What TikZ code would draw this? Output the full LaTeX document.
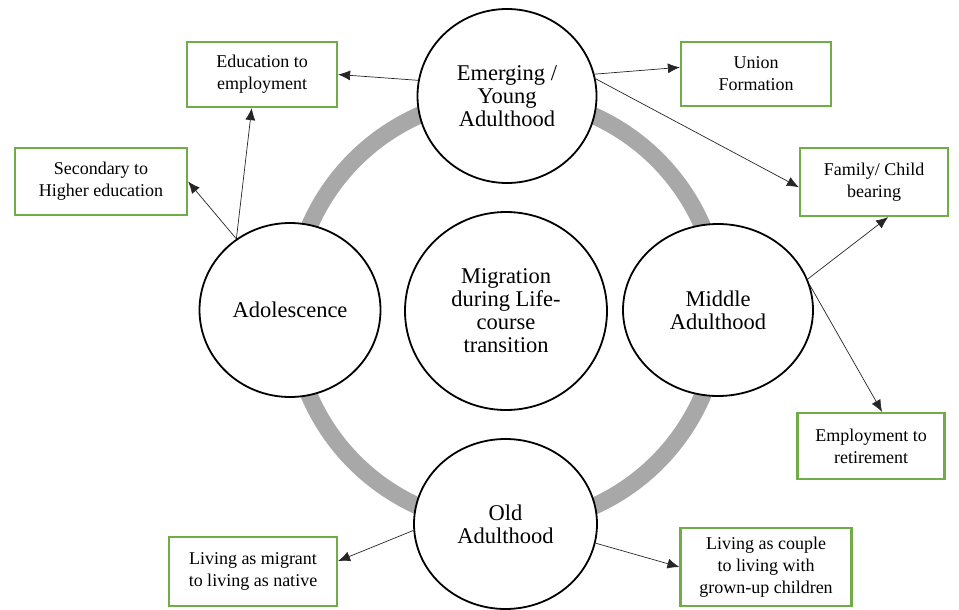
\documentclass[tikz,border=0pt]{standalone}
\usepackage{fontspec}
\setmainfont{Liberation Serif}
\usetikzlibrary{shapes.geometric}
\usetikzlibrary{arrows.meta}

\definecolor{boxgreen}{RGB}{112,173,71}
\definecolor{ringgray}{RGB}{168,168,168}

\begin{document}
\begin{tikzpicture}[x=1pt,y=-1pt,
	stage/.style={ellipse,draw,line width=1.8pt,fill=white,inner sep=0pt,align=center,font=\fontsize{22.5}{23}\selectfont},
	trans/.style={rectangle,draw=boxgreen,line width=2.2pt,fill=white,inner sep=0pt,align=center,font=\fontsize{18}{22}\selectfont},
	link/.style={-{Latex[length=12pt,width=10pt]},line width=0.7pt,black!85}]
	\useasboundingbox (0,0) rectangle (959,610);
	\coordinate (o) at (506,311);
	\draw[ringgray,line width=17pt] (o) circle [radius=214pt];
	\node[stage,minimum width=179pt,minimum height=174pt] (young) at (507,96) {Emerging /\\Young\\Adulthood};
	\node[stage,minimum width=181pt,minimum height=174pt] (adol) at (290,310) {Adolescence};
	\node[stage,minimum width=202pt,minimum height=198pt] (mig) at (o) {Migration\\during Life-\\course\\transition};
	\node[stage,minimum width=190pt,minimum height=172pt] (middle) at (718,310) {Middle\\Adulthood};
	\node[stage,minimum width=183pt,minimum height=170pt] (old) at (505.5,524) {Old\\Adulthood};
	\node[trans,minimum width=150pt,minimum height=65pt] (edu) at (262,74.5) {Education to\\employment};
	\node[trans,minimum width=172pt,minimum height=67pt] (sec) at (101,181.5) {Secondary to\\Higher education};
	\node[trans,minimum width=150pt,minimum height=64pt] (union) at (756,74) {Union\\Formation};
	\node[trans,minimum width=148pt,minimum height=68pt] (family) at (874,182) {Family/ Child\\bearing};
	\node[trans,minimum width=147pt,minimum height=66pt] (emp) at (871,446) {Employment to\\retirement};
	\node[trans,minimum width=168pt,minimum height=69pt] (migr) at (253,571.5) {Living as migrant\\to living as native};
	\node[trans,minimum width=171pt,minimum height=78pt] (couple) at (766,567) {Living as couple\\to living with\\grown-up children};
	\foreach \a/\b in {young.170/edu.east,young.14/union.175,young.11/family.184,adol.127/edu.253,adol.127/sec.east,middle.19/family.292,middle.15/emp.72,old.184/migr.7,old.348/couple.west}
		\draw[link] (\a) -- (\b);
\end{tikzpicture}
\end{document}
